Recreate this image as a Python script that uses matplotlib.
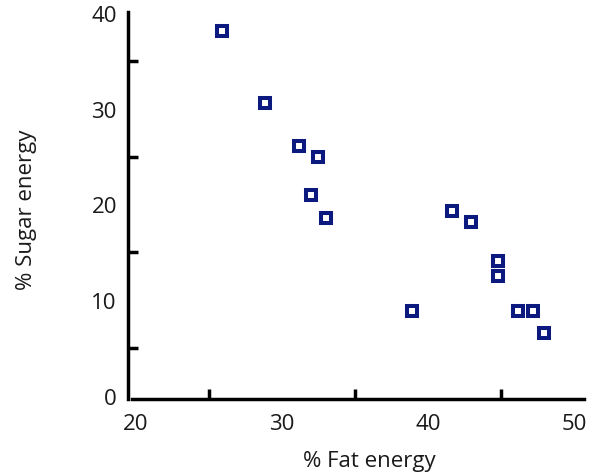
import matplotlib
matplotlib.use("Agg")
import matplotlib.pyplot as plt
from matplotlib.ticker import FixedLocator

fat_energy = [25.89, 28.82, 31.14, 32.47, 31.97, 33.01, 41.64, 42.97, 44.79, 44.79, 38.90, 46.14, 47.19, 47.95]
sugar_energy = [38.14, 30.56, 26.13, 24.92, 20.98, 18.55, 19.34, 18.19, 14.12, 12.49, 8.90, 8.90, 8.90, 6.53]

x_tick_labels = [20, 30, 40, 50]
x_tick_marks = [25, 30, 35, 40, 45, 50]
y_tick_labels = [0, 10, 20, 30, 40]
y_tick_marks = [5, 10, 15, 20, 25, 30, 35, 40]

plt.rcParams['font.family'] = ['Open Sans', 'DejaVu Sans']

fig = plt.figure(figsize=(5.9, 4.77), dpi=100)
ax = fig.add_axes([128/590, 77/477, 456/590, 387/477])

ax.plot(fat_energy, sugar_energy, linestyle='none', marker='s',
        markersize=7.9, markeredgewidth=2.9, markerfacecolor='white',
        markeredgecolor='#0c1a80')

ax.set_xlim(19.452, 50.685)
ax.set_ylim(-0.32, 40.1)

for s in ['top', 'right']:
    ax.spines[s].set_visible(False)
ax.spines['left'].set_linewidth(2.5)
ax.spines['bottom'].set_linewidth(2.5)
ax.spines['bottom'].set_bounds(19.75, 50.685)

ax.xaxis.set_major_locator(FixedLocator(x_tick_labels))
ax.yaxis.set_major_locator(FixedLocator(y_tick_labels))
ax.xaxis.set_minor_locator(FixedLocator(x_tick_marks))
ax.yaxis.set_minor_locator(FixedLocator(y_tick_marks))
ax.tick_params(which='major', length=0, labelsize=16, colors='#1a1a1a')
ax.tick_params(axis='x', which='major', pad=10)
ax.tick_params(axis='y', which='major', pad=8)
ax.tick_params(which='minor', direction='in', length=7, width=2.5, color='black')

ax.set_xlabel('% Fat energy', fontsize=16, color='#1a1a1a', va='center')
ax.xaxis.set_label_coords(0.5285, -0.158)
ax.set_ylabel('% Sugar energy', fontsize=16, color='#1a1a1a', va='center')
ax.yaxis.set_label_coords(-0.2215, 0.491)

fig.savefig('out.png', dpi=100)
